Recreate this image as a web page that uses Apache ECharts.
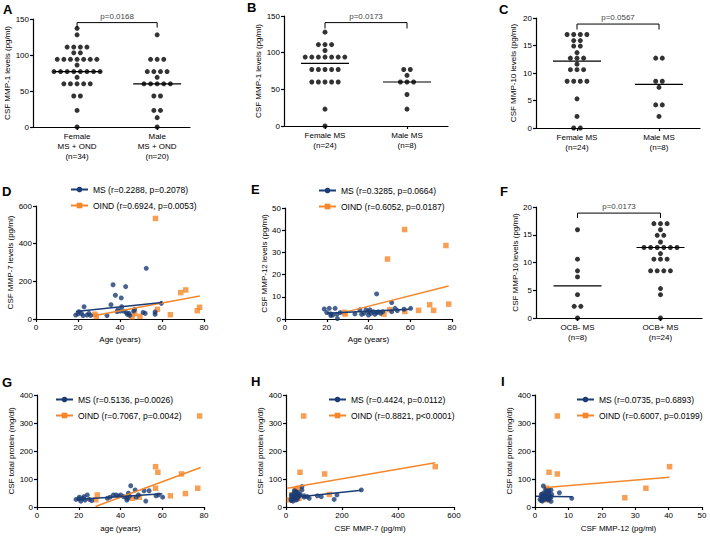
<!DOCTYPE html>
<html><head><meta charset="utf-8">
<script src="https://cdn.jsdelivr.net/npm/echarts@6/dist/echarts.min.js"></script>
<style>html,body{margin:0;padding:0;background:#fff}#c{width:710px;height:538px}</style>
</head><body><div id="c"></div>
<script>
// ================= DATA =================
// Panel A: CSF MMP-1 (pg/ml), MS + OND by sex
const aCats = ['Female\nMS + OND\n(n=34)', 'Male\nMS + OND\n(n=20)'];
const aFemale = [137,128,111,111,111,111,103,103,94,94,94,94,94,94,94,86,77,77,77,77,77,77,77,77,69,60,60,60,60,60,43,43,23,0];
const aMale = [128,94,94,94,77,77,77,77,69,60,60,60,60,60,43,43,23,23,13,0];
const aP = 'p=0.0168';
// Panel B: CSF MMP-1, MS by sex
const bCats = ['Female MS\n(n=24)', 'Male MS\n(n=8)'];
const bFemale = [128,111,111,111,103,94,94,94,94,94,94,94,77,77,77,77,77,60,60,60,60,60,23,0];
const bMale = [77,77,69,60,60,60,43,23];
const bP = 'p=0.0173';
// Panel C: CSF MMP-10, MS by sex
const cCats = ['Female MS\n(n=24)', 'Male MS\n(n=8)'];
const cFemale = [17,17,17,17,15.9,15.9,14.9,14.9,13.7,12.7,12.7,12.7,11.6,10.6,10.6,10.6,8.5,8.5,8.5,8.5,5.3,2.1,0,0];
const cMale = [12.7,12.7,8.5,8.5,7.4,4.2,4.2,2.1];
const cP = 'p=0.0567';
// Panel F: CSF MMP-10 by OCB status
const fCats = ['OCB- MS\n(n=8)', 'OCB+ MS\n(n=24)'];
const fNeg = [15.9,10.6,8.5,7.4,4.2,2.1,2.1,0];
const fPos = [17,17,17,15.9,14.9,14.9,13.7,12.7,12.7,12.7,12.7,12.7,12.7,11.6,10.6,10.6,10.6,8.5,8.5,8.5,8.5,5.3,4.2,0];
const fP = 'p=0.0173';

// Panel D: age vs CSF MMP-7
const dMsName = 'MS (r=0.2288, p=0.2078)';
const dOiName = 'OIND (r=0.6924, p=0.0053)';
const dMs = [[18.9,21],[20,27],[20.5,39],[21.6,30],[22.4,18],[22.9,65],[24.3,21],[25.2,30],[26,19],[33.8,18],[35.7,76],[36.7,182],[37.8,126],[38.6,39],[39,48],[40.2,42],[40.6,112],[40.8,65],[41.7,42],[42.7,172],[43,34],[43.5,25],[44.3,30],[44.6,19],[46.5,42],[47,51],[51,35],[52,30],[52.5,269],[56.7,37],[56.7,25],[59.7,83]];
const dOi = [[28,25],[28.7,14],[45.7,12],[49.5,14],[47,28],[57.8,51],[56.9,534],[64,23],[68.9,140],[71.3,154],[76.8,44],[77.9,62]];
const dMsFit = [[19,40],[60,88]];
const dOiFit = [[28,19],[78,122]];

// Panel E: age vs CSF MMP-12
const eMsName = 'MS (r=0.3285, p=0.0664)';
const eOiName = 'OIND (r=0.6052, p=0.0187)';
const eMs = [[18.8,4.5],[21.2,4.8],[24,4.8],[20,2.9],[21.9,2.3],[22.8,1.8],[24.8,2.1],[25.1,0.2],[26.4,2.9],[33.5,2.3],[35.9,4.1],[36.7,2.1],[37.8,2.6],[38.8,4.1],[39.9,3.3],[40.7,4.1],[41.2,2.6],[42.3,3.3],[43.1,2.1],[43.9,11.3],[43.9,2.9],[44.7,3.2],[45.8,2.6],[46.8,3.3],[51.1,7.4],[51.1,3.3],[52.7,4.8],[53.8,3.8],[57,4.4],[60.2,4.8],[22,1.5],[40,1.8]];
const eOi = [[28.5,3],[28.8,2.2],[47.4,2.2],[49.1,27],[50.2,4.2],[57.3,40.3],[57.4,3.4],[64,3.9],[69.3,6.4],[71.2,3.9],[77.1,33.1],[78.4,6.7]];
const eMsFit = [[20,2.6],[60,4.4]];
const eOiFit = [[28.8,3.1],[78.4,14.9]];

// Panel G: age vs CSF total protein
const gMsName = 'MS (r=0.5136, p=0.0026)';
const gOiName = 'OIND (r=0.7067, p=0.0042)';
const gMs = [[18.7,27],[20.3,35],[21,21],[21.9,31],[23,25],[24.1,43],[25.1,27],[26.2,23],[33.7,31],[35,35],[36.6,43],[37.9,43],[39,39],[40.1,43],[41.4,37],[42.7,35],[43,25],[43.8,49],[44.3,39],[44.9,76],[47,61],[47.5,35],[48.6,43],[51.3,58],[52.1,21],[53.7,58],[58.2,43],[60.2,35],[20,29],[22.5,37],[43.5,30],[57,40]];
const gOi = [[77.9,325],[56.8,144],[57.9,124],[69.2,118],[56.8,67],[77,67],[71.1,48],[63.9,40],[28.9,43],[28.1,26],[49,35],[45.8,31]];
const gMsFit = [[19,27],[60,47]];
const gOiFit = [[28,2],[78.4,141]];

// Panel H: CSF MMP-7 vs CSF total protein
const hMsName = 'MS (r=0.4424, p=0.0112)';
const hOiName = 'OIND (r=0.8821, p<0.0001)';
const hMs = [[18,27],[21,35],[25,21],[19,43],[30,31],[34,25],[37,39],[39,49],[42,35],[48,43],[30,58],[35,55],[42,52],[51,45],[57,73],[57,61],[19,23],[25,31],[30,37],[65,35],[76,37],[83,31],[112,40],[126,37],[172,27],[182,43],[269,61],[40,27],[45,38],[22,40],[28,48],[65,40]];
const hOi = [[63,325],[50,124],[138,118],[533,144],[43,67],[155,45],[33,61],[25,40],[40,35],[46,31],[21,43],[12,26]];
const hMsFit = [[17,33],[269,60]];
const hOiFit = [[4,67],[533,158]];

// Panel I: CSF MMP-12 vs CSF total protein
const iMsName = 'MS (r=0.0735, p=0.6893)';
const iOiName = 'OIND (r=0.6007, p=0.0199)';
const iMs = [[2.5,75],[11,31],[7.3,51],[4.8,61],[4,25],[1.5,27],[2,35],[2.2,21],[2.9,31],[2.3,43],[3.3,39],[4.1,49],[3.3,35],[2.6,43],[4.1,58],[2.1,37],[1.8,23],[2.9,27],[4.1,37],[2.6,39],[3.3,43],[4.8,35],[3.8,30],[4.4,40],[4.8,20],[2.6,50],[3.5,55],[1.9,45],[4.2,28],[3,33],[5,45],[3.2,62]];
const iOi = [[6.7,325],[4.2,124],[6.7,118],[40.3,144],[33.2,67],[26.9,33],[3.4,67],[3.9,58],[2.2,43],[3,26],[4.2,35],[3.4,31]];
const iMsFit = [[0.3,38],[11.2,37]];
const iOiFit = [[3.3,70],[40.3,106]];

// ================= CHART =================
const FONT = '"Liberation Sans", Arial, Helvetica, sans-serif';
const BLUE = '#1b3c74', ORANGE = '#f5872a';
const grids = [
  {left:33, top:19, width:157, height:108},
  {left:284, top:16, width:164, height:110},
  {left:536, top:18, width:164, height:110},
  {left:36, top:206, width:168, height:113},
  {left:285, top:208, width:167, height:111},
  {left:536, top:207, width:166, height:111},
  {left:37, top:395, width:167, height:112},
  {left:286, top:395, width:168, height:112},
  {left:535, top:395, width:167, height:112}
];
const xAxes = [], yAxes = [], series = [], legends = [];

function median(vals) {
  const s = vals.slice().sort((a, b) => a - b), n = s.length;
  return n % 2 ? s[(n - 1) / 2] : (s[n / 2 - 1] + s[n / 2]) / 2;
}
function swarm(vals, center, g, xr, yr) {
  const pxX = g.width / (xr[1] - xr[0]), pxY = g.height / (yr[1] - yr[0]);
  const s = 6.6, d = 5.3;
  const rows = {};
  vals.forEach(v => { rows[v] = (rows[v] || 0) + 1; });
  const keys = Object.keys(rows).map(Number).sort((a, b) => rows[b] - rows[a] || b - a);
  const placed = [], out = [];
  keys.forEach(v => {
    const n = rows[v], py = v * pxY;
    for (let i = 0; i < n; i++) {
      const base = (i - (n - 1) / 2) * s;
      let px = base;
      for (let k = 0; k < 80; k++) {
        const c = base + (k % 2 ? 1 : -1) * Math.ceil(k / 2) * s / 2;
        if (!placed.some(p => (p[0] - c) ** 2 + (p[1] - py) ** 2 < d * d)) { px = c; break; }
      }
      placed.push([px, py]);
      out.push([center + px / pxX, v]);
    }
  });
  return out;
}
const lineStyleAx = {color:'#000', width:1.2};
function baseAxis(i) {
  return {
    gridIndex:i, type:'value',
    axisLine:{show:true, onZero:false, lineStyle:lineStyleAx},
    axisTick:{show:true, inside:false, length:3, lineStyle:lineStyleAx},
    axisLabel:{color:'#000', fontSize:8, margin:4, fontFamily:FONT},
    splitLine:{show:false},
    nameLocation:'middle',
    nameTextStyle:{color:'#000', fontSize:8, fontFamily:FONT}
  };
}
function dotPanel(i, cfg) {
  const g = grids[i];
  const xa = baseAxis(i);
  Object.assign(xa, {min:cfg.xr[0], max:cfg.xr[1]});
  xa.axisTick.customValues = [0, 1];
  xa.axisLabel = Object.assign({}, xa.axisLabel, {customValues:[0, 1], lineHeight:10,
    formatter: v => cfg.cats[Math.round(v)]});
  xAxes.push(xa);
  const ya = baseAxis(i);
  Object.assign(ya, {min:cfg.yr[0], max:cfg.yr[1], interval:cfg.yInt, name:cfg.yName, nameGap:cfg.yGap});
  yAxes.push(ya);
  cfg.groups.forEach((vals, k) => {
    series.push({type:'scatter', xAxisIndex:i, yAxisIndex:i, data:swarm(vals, k, g, cfg.xr, cfg.yr),
      symbol:'circle', symbolSize:5, itemStyle:{color:'#000'}, clip:false, silent:true});
    const m = median(vals), hw = 24 * (cfg.xr[1] - cfg.xr[0]) / g.width;
    series.push({type:'line', xAxisIndex:i, yAxisIndex:i, data:[[k - hw, m], [k + hw, m]],
      symbol:'none', lineStyle:{color:'#000', width:1.2}, silent:true});
  });
  const lo = cfg.bracket[0], hi = cfg.bracket[1];
  series.push({type:'line', xAxisIndex:i, yAxisIndex:i, data:[[0, lo], [0, hi], [1, hi], [1, lo]],
    symbol:'none', lineStyle:{color:'#000', width:1}, silent:true, clip:false});
  series.push({type:'scatter', xAxisIndex:i, yAxisIndex:i, data:[[0.5, hi]], symbolSize:1,
    itemStyle:{color:'rgba(0,0,0,0)'}, clip:false, silent:true,
    label:{show:true, position:'top', distance:2, formatter:cfg.pText, color:'#000', fontSize:8, fontFamily:FONT}});
}
function scatterPanel(i, cfg) {
  const xa = baseAxis(i);
  Object.assign(xa, {min:0, max:cfg.xMax, interval:cfg.xInt, name:cfg.xName, nameGap:cfg.xGap});
  xAxes.push(xa);
  const ya = baseAxis(i);
  Object.assign(ya, {min:0, max:cfg.yMax, interval:cfg.yInt, name:cfg.yName, nameGap:cfg.yGap});
  yAxes.push(ya);
  [[cfg.oi, 'rect', ORANGE], [cfg.ms, 'circle', BLUE]].forEach(([s, sym, col]) => {
    series.push({type:'line', name:s.name, xAxisIndex:i, yAxisIndex:i, data:s.fit, symbol:sym, symbolSize:5,
      showSymbol:false, lineStyle:{color:col, width:1.5}, itemStyle:{color:col}, silent:true});
    series.push({type:'scatter', name:s.name, xAxisIndex:i, yAxisIndex:i, data:s.pts, symbol:sym,
      symbolSize:sym === 'rect' ? 5.5 : 5, itemStyle:{color:col}, silent:true, clip:false});
  });
  legends.push({data:[cfg.ms.name, cfg.oi.name], orient:'vertical', left:cfg.lg[0], top:cfg.lg[1],
    itemWidth:17, itemHeight:7, itemGap:7, selectedMode:false, padding:0,
    textStyle:{color:'#000', fontSize:8.5, fontFamily:FONT}});
}

dotPanel(0, {xr:[-0.55, 1.41], yr:[0, 150], yInt:50, yName:'CSF MMP-1 levels (pg/ml)', yGap:16,
  cats:aCats, groups:[aFemale, aMale], pText:aP, bracket:[138, 145]});
dotPanel(1, {xr:[-0.5, 1.5], yr:[0, 150], yInt:50, yName:'CSF MMP-1 levels (pg/ml)', yGap:20,
  cats:bCats, groups:[bFemale, bMale], pText:bP, bracket:[133, 141]});
dotPanel(2, {xr:[-0.5, 1.5], yr:[0, 20], yInt:5, yName:'CSF MMP-10 levels (pg/ml)', yGap:19,
  cats:cCats, groups:[cFemale, cMale], pText:cP, bracket:[17.9, 18.9]});
scatterPanel(3, {xMax:80, xInt:20, yMax:600, yInt:200, xName:'Age (years)', xGap:16,
  yName:'CSF MMP-7 levels (pg/ml)', yGap:18, ms:{name:dMsName, pts:dMs, fit:dMsFit},
  oi:{name:dOiName, pts:dOi, fit:dOiFit}, lg:[70, 185]});
scatterPanel(4, {xMax:80, xInt:20, yMax:50, yInt:10, xName:'Age (years)', xGap:16,
  yName:'CSF MMP-12 levels (pg/ml)', yGap:13, ms:{name:eMsName, pts:eMs, fit:eMsFit},
  oi:{name:eOiName, pts:eOi, fit:eOiFit}, lg:[318, 186]});
dotPanel(5, {xr:[-0.5, 1.5], yr:[0, 20], yInt:5, yName:'CSF MMP-10 levels (pg/ml)', yGap:13,
  cats:fCats, groups:[fNeg, fPos], pText:fP, bracket:[18.0, 18.9]});
scatterPanel(6, {xMax:80, xInt:20, yMax:400, yInt:100, xName:'age (years)', xGap:17,
  yName:'CSF total protein (mg/dl)', yGap:10, ms:{name:gMsName, pts:gMs, fit:gMsFit},
  oi:{name:gOiName, pts:gOi, fit:gOiFit}, lg:[55, 395]});
scatterPanel(7, {xMax:600, xInt:200, yMax:400, yInt:100, xName:'CSF MMP-7 (pg/ml)', xGap:17,
  yName:'CSF total protein (mg/dl)', yGap:22, ms:{name:hMsName, pts:hMs, fit:hMsFit},
  oi:{name:hOiName, pts:hOi, fit:hOiFit}, lg:[328, 395]});
scatterPanel(8, {xMax:50, xInt:10, yMax:400, yInt:100, xName:'CSF MMP-12 (pg/ml)', xGap:17,
  yName:'CSF total protein (mg/dl)', yGap:22, ms:{name:iMsName, pts:iMs, fit:iMsFit},
  oi:{name:iOiName, pts:iOi, fit:iOiFit}, lg:[576, 395]});

const letters = [['A',3,3],['B',247,1],['C',499,3],['D',2,185],['E',251,183],['F',500,185],['G',2,376],['H',251,375],['I',501,375]];
const titles = letters.map(([t, l, tp]) => ({text:t, left:l, top:tp, padding:0,
  textStyle:{fontSize:13, fontWeight:'bold', color:'#000', fontFamily:FONT}}));

const chart = echarts.init(document.getElementById('c'), null, {renderer:'svg', width:710, height:538});
chart.setOption({
  animation:false, backgroundColor:'#fff',
  title:titles, grid:grids, xAxis:xAxes, yAxis:yAxes, legend:legends, series:series
});
</script>
</body></html>
